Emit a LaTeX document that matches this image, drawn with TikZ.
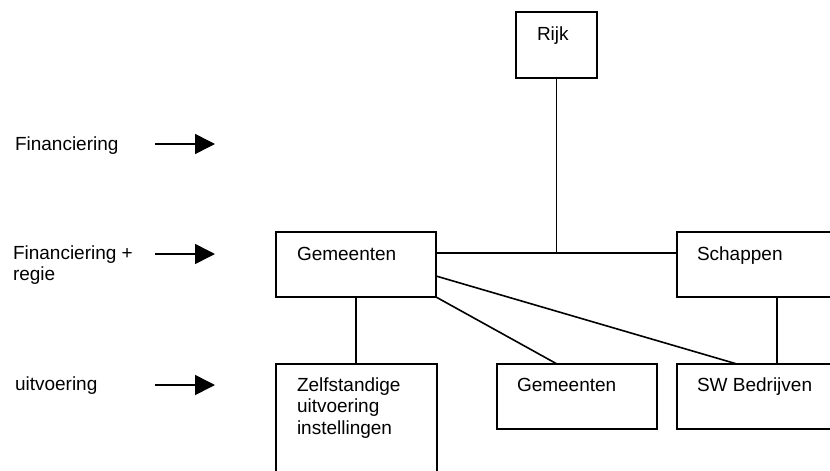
\documentclass[tikz,border=0pt]{standalone}
\usepackage{fontspec}
\setmainfont{Liberation Sans}
\usetikzlibrary{calc,arrows.meta}
\begin{document}
\begin{tikzpicture}[x=1pt,y=-1pt,
  box/.style={draw=black,line width=1.6pt,rectangle,inner sep=0pt,outer sep=0pt,anchor=north west},
  txt/.style={inner sep=0pt,outer sep=0pt,anchor=base west,align=left,font=\fontsize{19}{21.5}\selectfont},
  conn/.style={draw=black,line width=1.6pt},
  arr/.style={draw=black,line width=1.6pt,-{Triangle[length=20pt,width=20pt]}}]
\useasboundingbox (0,0) rectangle (830,471);
\clip (0,0) rectangle (830,471);
% boxes
\node[box,minimum width=81pt,minimum height=66pt] (r) at (516,12) {};
\node[box,minimum width=160pt,minimum height=65pt] (g) at (276,232) {};
\node[box,minimum width=163pt,minimum height=65pt] (s) at (677,232) {};
\node[box,minimum width=161pt,minimum height=116pt] (z) at (276,364) {};
\node[box,minimum width=160pt,minimum height=65pt] (g2) at (497,364) {};
\node[box,minimum width=163pt,minimum height=65pt] (sw) at (677,364) {};
% box texts (base = baseline of the last line)
\node[txt] (rt) at (537,40) {Rijk};
\node[txt] (gt) at (297,260) {Gemeenten};
\node[txt] (st) at (697,260) {Schappen};
\node[txt] (zt) at (297,434) {Zelfstandige\\uitvoering\\instellingen};
\node[txt] (g2t) at (517,391) {Gemeenten};
\node[txt] (swt) at (697,391) {SW Bedrijven};
% left labels
\node[txt] (l1) at (15,150) {Financiering};
\node[txt] (l2) at (13,280.5) {Financiering +\\regie};
\node[txt] (l3) at (15,390.5) {uitvoering};
% arrows
\coordinate (a1s) at (155,144); \coordinate (a1e) at (215,144);
\coordinate (a2s) at (155,254); \coordinate (a2e) at (215,254);
\coordinate (a3s) at (155,385); \coordinate (a3e) at (215,385);
\draw[arr] (a1s) -- (a1e);
\draw[arr] (a2s) -- (a2e);
\draw[arr] (a3s) -- (a3e);
% connectors
\coordinate (gh) at ($(g.north east)+(0,21)$);
\draw[conn] (gh) -- (gh -| s.west);
\draw[conn] (r.south) -- (r.south |- gh);
\draw[conn] ($(g.north east)+(0,44)$) -- ($(sw.north west)+(60,0)$);
\draw[conn] (g.south east) -- ($(g2.north west)+(60,0)$);
\draw[conn] (g.south) -- (g.south |- z.north);
\coordinate (sd) at ($(s.south west)+(100,0)$);
\draw[conn] (sd) -- (sd |- sw.north);
\end{tikzpicture}
\end{document}
